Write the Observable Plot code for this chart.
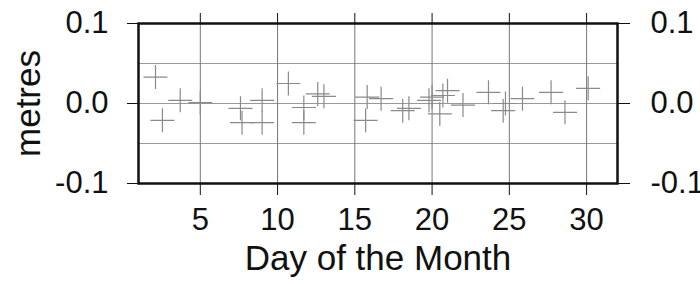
<!DOCTYPE html>
<html>
<head>
<meta charset="utf-8">
<script src="https://cdn.jsdelivr.net/npm/d3@7"></script>
<script src="https://cdn.jsdelivr.net/npm/@observablehq/plot@0.6"></script>
<style>
  html, body { margin: 0; padding: 0; background: #fff; }
  svg { display: block; }
</style>
</head>
<body>
<div id="chart"></div>
<script>
const days = [2.1, 2.55, 3.7, 5.0, 7.6, 7.7, 9.0, 9.0, 10.7, 11.7, 11.7, 12.6, 13.0, 15.7, 15.8, 16.7, 18.1, 18.5, 19.8, 20.0, 20.5, 20.7, 21.0, 22.0, 23.65, 24.6, 24.75, 25.85, 27.7, 28.6, 30.1];
const values = [0.033, -0.021, 0.004, 0.001, -0.006, -0.024, 0.004, -0.024, 0.025, -0.005, -0.024, 0.012, 0.009, -0.021, 0.008, 0.006, -0.009, -0.006, 0.004, 0.008, -0.013, 0.010, 0.016, -0.002, 0.014, -0.009, 0.0, 0.006, 0.014, -0.011, 0.019];
const xTicks = [5, 10, 15, 20, 25, 30];
const yTicks = [-0.1, 0.0, 0.1];
const yGrid = [-0.05, 0, 0.05];

const data = days.map((d, i) => ({day: d, value: values[i]}));

const cross = {
  draw(ctx, size) {
    const r = Math.sqrt(size / Math.PI);
    ctx.moveTo(-r, 0); ctx.lineTo(r, 0);
    ctx.moveTo(0, -r); ctx.lineTo(0, r);
  }
};

const fmt = d => d.toFixed(1);

const chart = Plot.plot({
  width: 700,
  height: 284,
  marginLeft: 138,
  marginRight: 83,
  marginTop: 23,
  marginBottom: 101,
  style: {fontFamily: "'Liberation Sans', Arial, Helvetica, sans-serif", background: "#fff", color: "#111"},
  x: {domain: [1, 32]},
  y: {domain: [-0.1, 0.1]},
  marks: [
    Plot.gridY(yGrid, {stroke: "#999", strokeOpacity: 1, strokeWidth: 1}),
    Plot.gridX(xTicks, {stroke: "#777", strokeOpacity: 1, strokeWidth: 1}),
    Plot.dot(data, {x: "day", y: "value", symbol: cross, r: 12, stroke: "#8a8a8a", strokeWidth: 1.2, fill: "none"}),
    Plot.axisX(xTicks, {anchor: "bottom", tickSize: 12, tickPadding: 12, fontSize: 31, tickFormat: d => String(d), label: "Day of the Month", labelAnchor: "center", labelArrow: "none", labelOffset: 86, stroke: "#111"}),
    Plot.axisX(xTicks, {anchor: "top", tickSize: 11, tickFormat: () => "", label: null, stroke: "#111"}),
    Plot.axisY(yTicks, {anchor: "left", tickSize: 11, tickPadding: 19, fontSize: 31, tickFormat: fmt, label: "metres", labelAnchor: "center", labelArrow: "none", labelOffset: 123, stroke: "#111"}),
    Plot.axisY(yTicks, {anchor: "right", tickSize: 12, tickPadding: 21, fontSize: 31, tickFormat: fmt, label: null, stroke: "#111"}),
    Plot.frame({stroke: "#111", strokeWidth: 2.5})
  ]
});

chart.querySelectorAll("g[aria-label='x-axis label'] text, g[aria-label='y-axis label'] text").forEach(t => t.setAttribute("font-size", 35));
document.getElementById("chart").appendChild(chart);
</script>
</body>
</html>
